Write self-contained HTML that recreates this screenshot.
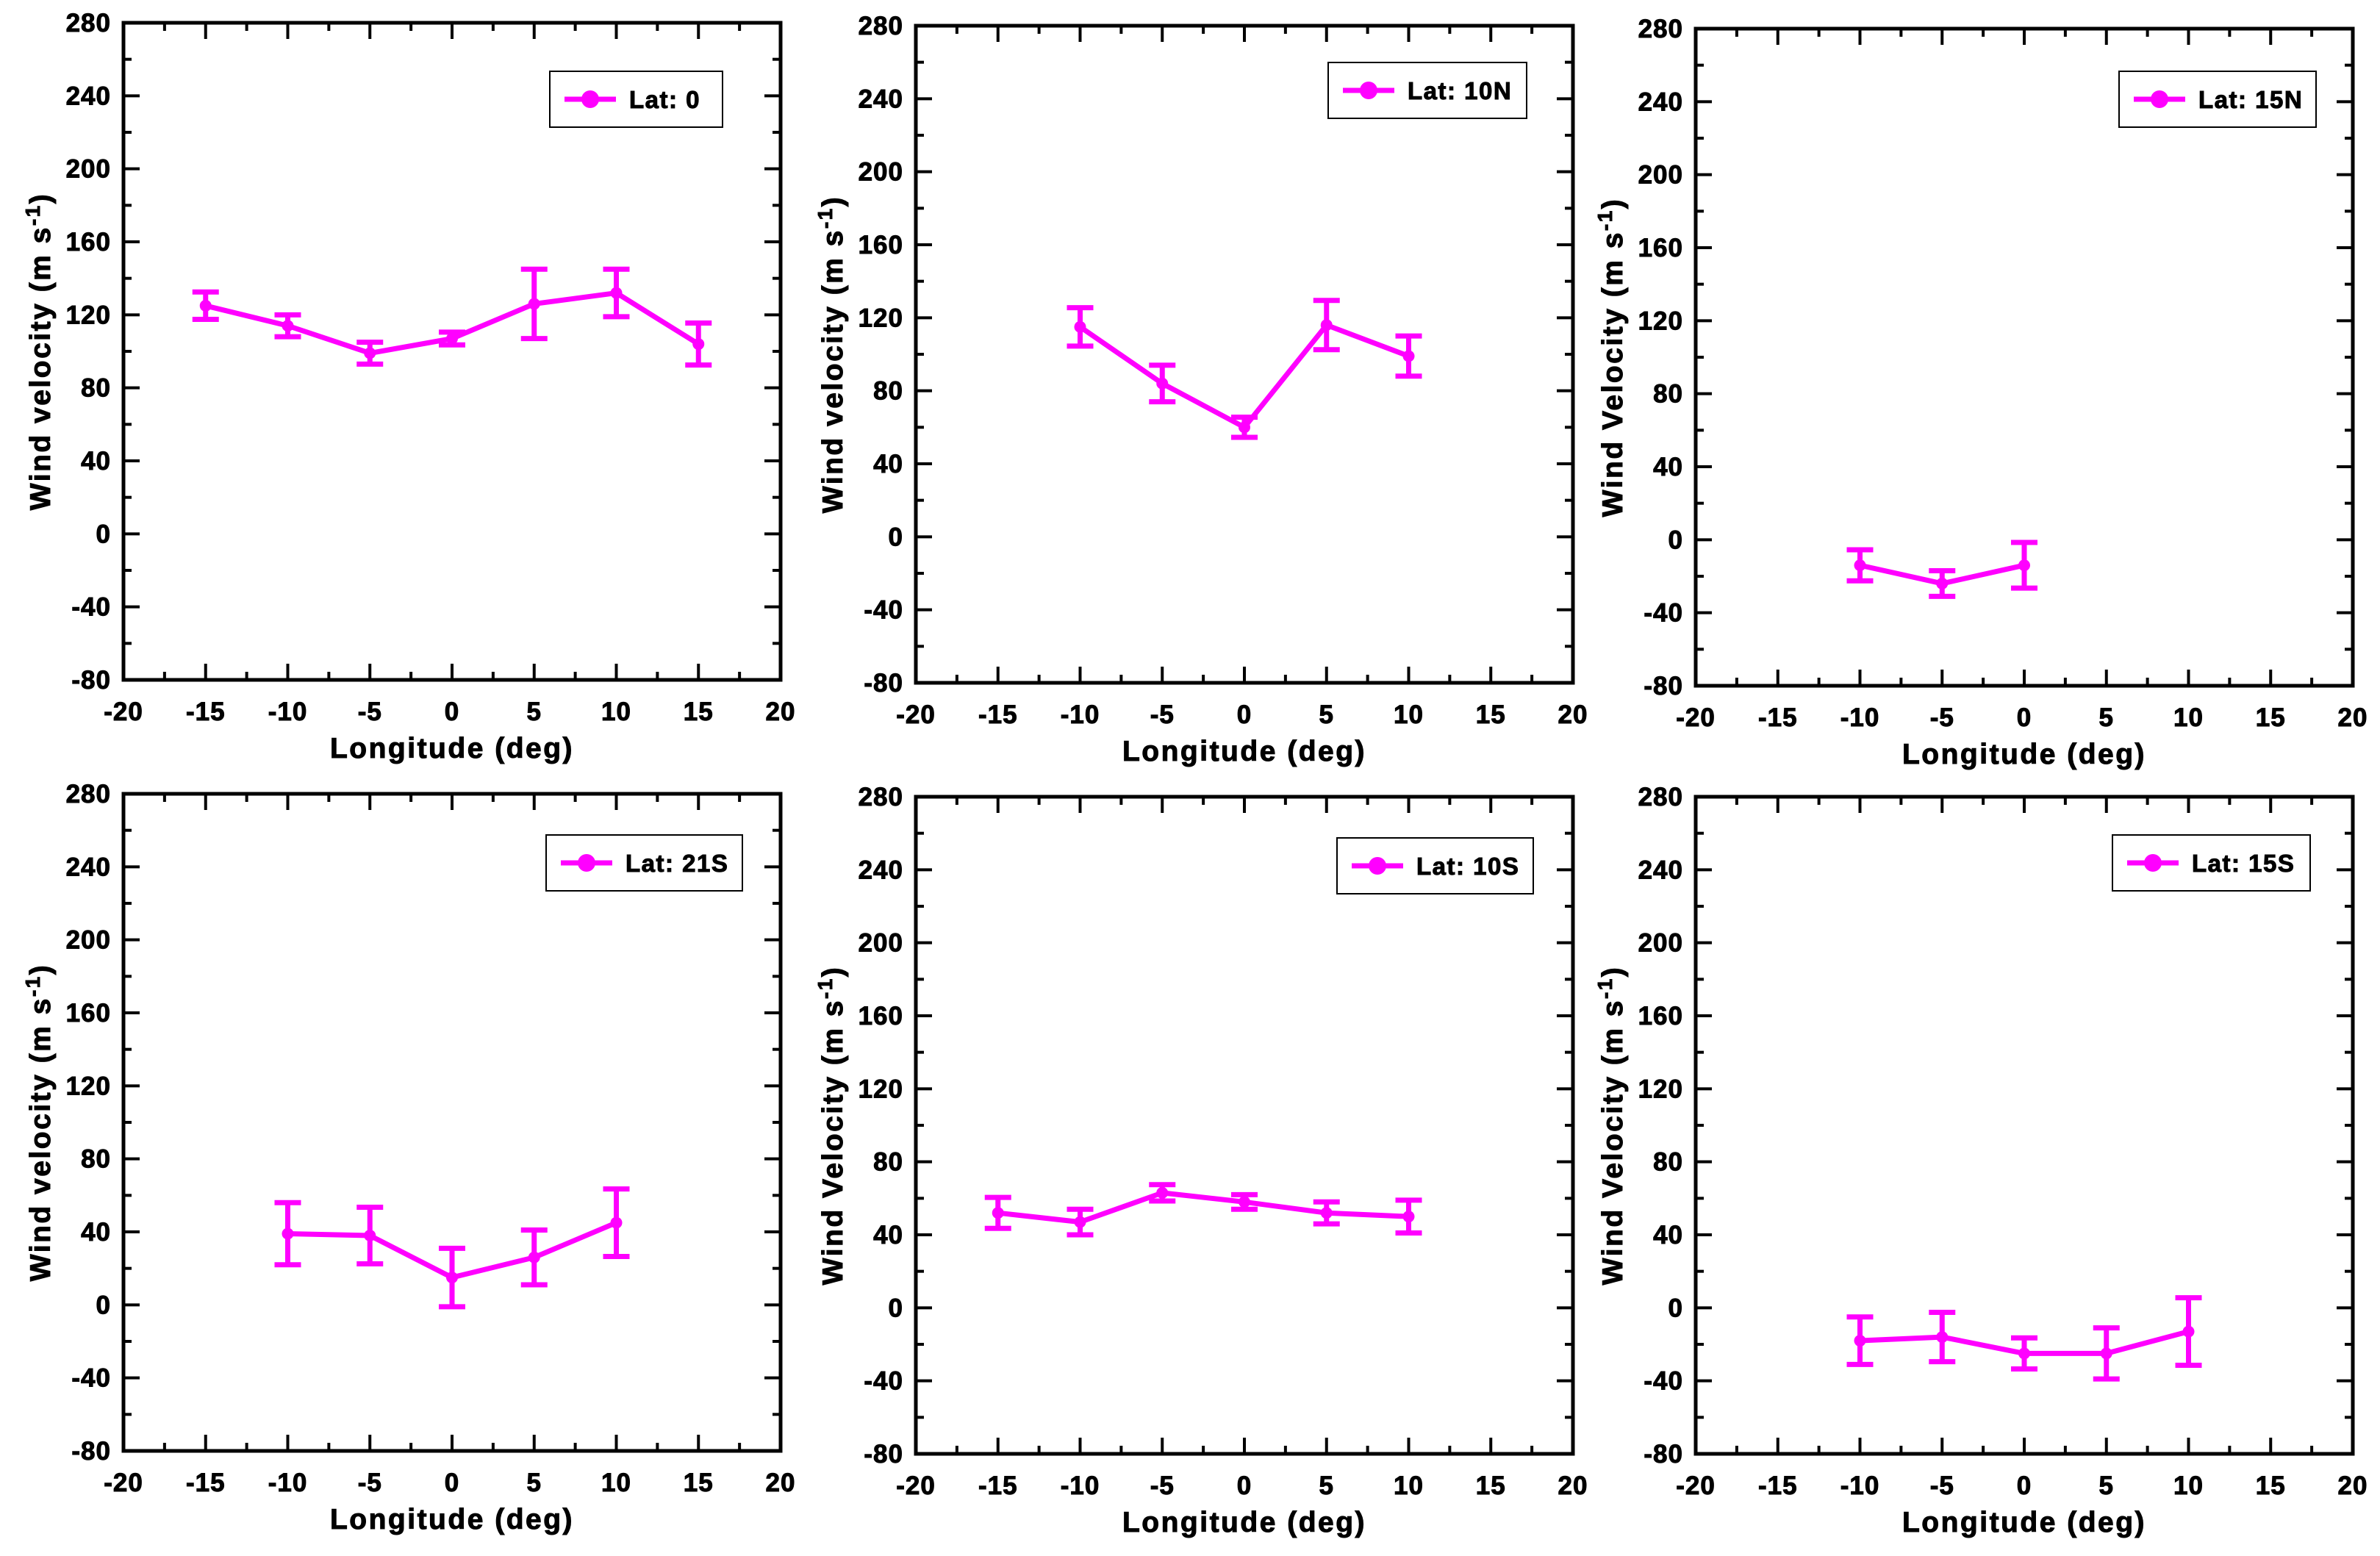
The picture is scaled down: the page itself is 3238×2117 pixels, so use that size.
<!DOCTYPE html>
<html><head><meta charset="utf-8"><style>
html,body{margin:0;padding:0;background:#fff}
svg{display:block}
text{font-family:"Liberation Sans",Arial,sans-serif;font-weight:bold;fill:#000;stroke:#000;stroke-width:1}
</style></head>
<body>
<svg id="chart" width="3238" height="2117" xmlns="http://www.w3.org/2000/svg"></svg>
<script>
// ---- data ----
const p1Lon = [-15,-10,-5,0,5,10,15];
const p1Val = [125,114,99,107,126,132,104];
const p1Err = [7.5,6,6,3.5,19,13,11.5];
const p2Lon = [-10,-5,0,5,10];
const p2Val = [115,84,60,116,99];
const p2Err = [10.5,10,5.5,13.5,11];
const p3Lon = [-10,-5,0];
const p3Val = [-14,-24,-14];
const p3Err = [8.5,7,12.5];
const p4Lon = [-10,-5,0,5,10];
const p4Val = [39,38,15,26,45];
const p4Err = [17,15.5,16,15,18.5];
const p5Lon = [-15,-10,-5,0,5,10];
const p5Val = [52,47,63,58,52,50];
const p5Err = [8.5,7,4.5,4,6,9];
const p6Lon = [-10,-5,0,5,10];
const p6Val = [-18,-16,-25,-25,-13];
const p6Err = [13,13.5,8.5,14,18.5];
const xTicks = [-20,-15,-10,-5,0,5,10,15,20];
const yTicks = [-80,-40,0,40,80,120,160,200,240,280];
const labels = ["Lat: 0","Lat: 10N","Lat: 15N","Lat: 21S","Lat: 10S","Lat: 15S"];

const panels = [
 {L:168,T:31,lon:p1Lon,val:p1Val,err:p1Err,yt:"Wind velocity",lg:[580,66,235]},
 {L:1246,T:35,lon:p2Lon,val:p2Val,err:p2Err,yt:"Wind velocity",lg:[561,50,270]},
 {L:2307,T:39,lon:p3Lon,val:p3Val,err:p3Err,yt:"Wind Velocity",lg:[576,58,268]},
 {L:168,T:1080,lon:p4Lon,val:p4Val,err:p4Err,yt:"Wind velocity",lg:[575,56,267]},
 {L:1246,T:1084,lon:p5Lon,val:p5Val,err:p5Err,yt:"Wind Velocity",lg:[573,56,267]},
 {L:2307,T:1084,lon:p6Lon,val:p6Val,err:p6Err,yt:"Wind Velocity",lg:[567,52,269]}
];
const W=894,H=894,MAG="#ff00ff";
const svg=document.getElementById('chart');
const NS="http://www.w3.org/2000/svg";
function mk(tag,attrs,parent){const e=document.createElementNS(NS,tag);for(const k in attrs)e.setAttribute(k,attrs[k]);parent.appendChild(e);return e;}

panels.forEach((p,i)=>{
  const g=mk('g',{},svg);
  
  
  const xs=v=>p.L+(v+20)/40*W;
  const ys=v=>p.T+(280-v)/360*H;
  for(let v=-20;v<=20;v+=2.5){
    const maj=(v%5===0), len=maj?22:11, x=xs(v);
    mk('line',{x1:x,x2:x,y1:p.T+H,y2:p.T+H-len,stroke:'#000','stroke-width':4},g);
    mk('line',{x1:x,x2:x,y1:p.T,y2:p.T+len,stroke:'#000','stroke-width':4},g);
  }
  for(let v=-80;v<=280;v+=20){
    const maj=(v%40===0), len=maj?22:11, y=ys(v);
    mk('line',{x1:p.L,x2:p.L+len,y1:y,y2:y,stroke:'#000','stroke-width':4},g);
    mk('line',{x1:p.L+W,x2:p.L+W-len,y1:y,y2:y,stroke:'#000','stroke-width':4},g);
  }
  const fr=mk('rect',{x:p.L,y:p.T,width:W,height:H,fill:'none',stroke:'#000','stroke-width':5},g);
  
  
  xTicks.forEach(v=>{const t=mk('text',{x:xs(v),y:p.T+H+55,'font-size':35,'text-anchor':'middle','letter-spacing':1},g);t.textContent=v;
    
    });
  yTicks.forEach(v=>{const t=mk('text',{x:p.L-17,y:ys(v)+12,'font-size':35,'text-anchor':'end','letter-spacing':1},g);t.textContent=v;
    
    });
  const xt=mk('text',{x:p.L+W/2,y:p.T+H+106,'font-size':39,'text-anchor':'middle','letter-spacing':2.5,'stroke-width':1.4},g);
  xt.textContent='Longitude (deg)';
  
  
  const yt=mk('text',{x:0,y:0,'font-size':39,'text-anchor':'middle','letter-spacing':2.5,'stroke-width':1.4,transform:`translate(${p.L-100},${p.T+H/2}) rotate(-90)`},g);
  yt.innerHTML=p.yt+' (m s<tspan dy="-14" font-size="28">-1</tspan><tspan dy="14">)</tspan>';
  
  
  const pts=p.lon.map((x,j)=>xs(x)+','+ys(p.val[j])).join(' ');
  const pl=mk('polyline',{points:pts,fill:'none',stroke:MAG,'stroke-width':7,'stroke-linejoin':'round'},g);
  
  
  p.lon.forEach((x,j)=>{
    const cx=xs(x),hi=ys(p.val[j]+p.err[j]),lo=ys(p.val[j]-p.err[j]);
    const eb=mk('g',{stroke:MAG,'stroke-width':7},g);
    
    
    mk('line',{x1:cx,x2:cx,y1:hi,y2:lo},eb);
    mk('line',{x1:cx-18,x2:cx+18,y1:hi,y2:hi},eb);
    mk('line',{x1:cx-18,x2:cx+18,y1:lo,y2:lo},eb);
    const c=mk('circle',{cx:cx,cy:ys(p.val[j]),r:8,fill:MAG},g);
    
    
  });
  const [lx,ly,lw]=p.lg;
  const lg=mk('g',{},g);
  
  
  mk('rect',{x:p.L+lx,y:p.T+ly,width:lw,height:76,fill:'#fff',stroke:'#000','stroke-width':2},lg);
  const cy=p.T+ly+38;
  mk('line',{x1:p.L+lx+20,x2:p.L+lx+90,y1:cy,y2:cy,stroke:MAG,'stroke-width':7},lg);
  mk('circle',{cx:p.L+lx+55,cy:cy,r:12,fill:MAG},lg);
  const lt=mk('text',{x:p.L+lx+108,y:cy+12,'font-size':33,'letter-spacing':1.5,'stroke-width':1.2},lg);
  lt.textContent=labels[i];
  
  
});
</script>
</body></html>
